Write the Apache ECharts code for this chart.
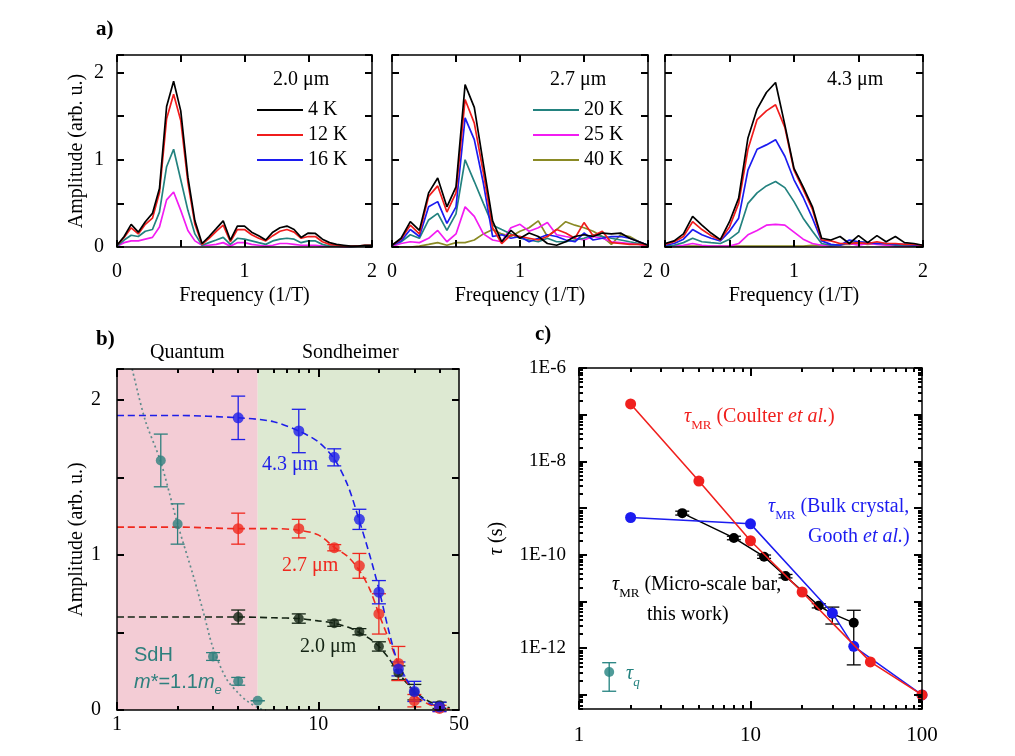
<!DOCTYPE html>
<html><head><meta charset="utf-8">
<script src="https://cdn.jsdelivr.net/npm/echarts@6/dist/echarts.min.js"></script>
<style>html,body{margin:0;padding:0;background:#fff;}#c{width:1015px;height:756px;}</style>
</head><body><div id="c"></div><script>
// ---------------- DATA ----------------
// Panel a) FFT amplitude spectra
const freqA1 = [0,0.056,0.111,0.167,0.222,0.278,0.333,0.389,0.444,0.5,0.556,0.611,0.667,0.722,0.778,0.833,0.889,0.944,1.0,1.056,1.111,1.167,1.222,1.278,1.333,1.389,1.444,1.5,1.556,1.611,1.667,1.722,1.778,1.833,1.889,1.944,2.0];
const a1_4K  = [0.02,0.12,0.26,0.17,0.29,0.385,0.67,1.61,1.90,1.56,0.80,0.30,0.04,0.12,0.21,0.30,0.08,0.24,0.24,0.17,0.13,0.08,0.17,0.22,0.24,0.20,0.11,0.16,0.155,0.09,0.05,0.03,0.02,0.01,0.01,0.02,0.02];
const a1_12K = [0.02,0.11,0.22,0.15,0.26,0.33,0.62,1.47,1.75,1.45,0.74,0.26,0.03,0.10,0.18,0.25,0.06,0.20,0.20,0.14,0.10,0.07,0.13,0.18,0.20,0.17,0.10,0.12,0.12,0.06,0.03,0.02,0.01,0.01,0.01,0.02,0.02];
const a1_20K = [0.01,0.08,0.135,0.12,0.18,0.20,0.40,0.92,1.12,0.77,0.42,0.15,0.02,0.05,0.08,0.11,0.03,0.10,0.09,0.07,0.05,0.03,0.07,0.09,0.10,0.09,0.05,0.07,0.07,0.03,0.01,0.01,0.01,0.0,0.01,0.01,0.01];
const a1_25K = [0.01,0.05,0.07,0.07,0.09,0.11,0.23,0.54,0.63,0.42,0.19,0.07,0.02,0.02,0.03,0.05,0.01,0.05,0.05,0.03,0.02,0.01,0.02,0.04,0.04,0.03,0.02,0.02,0.02,0.01,0.01,0.01,0.0,0.0,0.01,0.01,0.01];

const freqA23 = [0,0.071,0.143,0.214,0.286,0.357,0.429,0.5,0.571,0.643,0.714,0.786,0.857,0.929,1.0,1.071,1.143,1.214,1.286,1.357,1.429,1.5,1.571,1.643,1.714,1.786,1.857,1.929,2.0];
const a2_4K  = [0.02,0.10,0.29,0.19,0.62,0.79,0.46,0.69,1.86,1.60,0.95,0.30,0.06,0.19,0.10,0.16,0.12,0.04,0.02,0.06,0.12,0.14,0.12,0.16,0.15,0.16,0.10,0.06,0.02];
const a2_12K = [0.02,0.09,0.25,0.15,0.58,0.70,0.40,0.62,1.69,1.42,0.85,0.22,0.04,0.14,0.12,0.10,0.08,0.12,0.20,0.16,0.10,0.28,0.13,0.18,0.05,0.04,0.03,0.03,0.02];
const a2_16K = [0.02,0.07,0.20,0.12,0.46,0.52,0.27,0.46,1.48,1.23,0.73,0.12,0.14,0.10,0.12,0.06,0.10,0.14,0.12,0.08,0.06,0.16,0.08,0.10,0.12,0.12,0.10,0.06,0.02];
const a2_20K = [0.02,0.06,0.14,0.10,0.31,0.385,0.19,0.38,1.00,0.75,0.50,0.25,0.20,0.15,0.10,0.08,0.06,0.10,0.06,0.06,0.08,0.10,0.14,0.12,0.10,0.08,0.06,0.04,0.02];
const a2_25K = [0.01,0.04,0.06,0.05,0.10,0.19,0.06,0.15,0.46,0.35,0.15,0.08,0.06,0.22,0.26,0.18,0.22,0.28,0.14,0.12,0.10,0.08,0.12,0.10,0.06,0.05,0.04,0.03,0.01];
const a2_40K = [0.01,0.0,0.0,0.01,0.03,0.05,0.02,0.05,0.05,0.08,0.15,0.20,0.15,0.12,0.18,0.22,0.30,0.12,0.20,0.29,0.25,0.22,0.18,0.12,0.03,0.14,0.12,0.06,0.02];

const a3_4K  = [0.04,0.07,0.15,0.35,0.25,0.16,0.085,0.29,0.56,1.25,1.58,1.77,1.885,1.40,0.90,0.69,0.46,0.10,0.08,0.12,0.04,0.13,0.05,0.13,0.06,0.12,0.05,0.04,0.02];
const a3_12K = [0.03,0.06,0.12,0.29,0.20,0.13,0.08,0.23,0.50,1.12,1.46,1.56,1.63,1.37,0.88,0.66,0.43,0.08,0.07,0.04,0.04,0.05,0.04,0.06,0.04,0.04,0.03,0.03,0.02];
const a3_16K = [0.02,0.04,0.09,0.20,0.14,0.10,0.07,0.18,0.33,0.88,1.12,1.17,1.23,1.04,0.77,0.57,0.33,0.07,0.03,0.02,0.08,0.06,0.05,0.04,0.04,0.03,0.03,0.02,0.02];
const a3_20K = [0.01,0.02,0.05,0.10,0.06,0.05,0.04,0.09,0.17,0.50,0.62,0.70,0.75,0.68,0.52,0.33,0.18,0.04,0.02,0.02,0.05,0.06,0.05,0.04,0.04,0.02,0.02,0.01,0.01];
const a3_25K = [0.01,0.01,0.02,0.04,0.02,0.01,0.01,0.01,0.04,0.14,0.19,0.25,0.26,0.25,0.17,0.09,0.04,0.02,0.01,0.02,0.04,0.02,0.04,0.03,0.02,0.01,0.01,0.01,0.01];
const a3_40K = [0.01,0.01,0.01,0.01,0.01,0.01,0.01,0.01,0.01,0.01,0.01,0.01,0.01,0.01,0.01,0.01,0.02,0.02,0.02,0.03,0.03,0.04,0.03,0.04,0.03,0.03,0.02,0.02,0.01];

const tempNames = ['4 K','12 K','16 K','20 K','25 K','40 K'];
const thicknessA = ['2.0 \u03bcm','2.7 \u03bcm','4.3 \u03bcm'];

// Panel b) amplitude vs temperature
const tempsB = [4, 8, 12, 16, 20, 25, 30, 40];
const amp43 = [1.885, 1.80, 1.63, 1.23, 0.76, 0.265, 0.12, 0.02];
const err43 = [0.14, 0.14, 0.055, 0.065, 0.075, 0.045, 0.065, 0.03];
const amp27 = [1.17, 1.17, 1.047, 0.93, 0.62, 0.30, 0.06, 0.01];
const err27 = [0.10, 0.06, 0.02, 0.08, 0.13, 0.11, 0.04, 0.02];
const amp20 = [0.60, 0.59, 0.56, 0.505, 0.41, 0.24, 0.115, 0.03];
const err20 = [0.045, 0.03, 0.02, 0.02, 0.03, 0.045, 0.05, 0.02];
const tempsSdH = [1.65, 2, 3, 4, 5];
const ampSdH = [1.61, 1.20, 0.345, 0.185, 0.06];
const errSdH = [0.17, 0.13, 0.025, 0.025, 0.0];
const fitT = [1, 2, 4, 6, 8, 10, 12, 14, 16, 18, 20, 22.5, 25, 30, 35, 40, 45];
const fit43 = [1.90, 1.90, 1.885, 1.86, 1.80, 1.73, 1.62, 1.45, 1.22, 1.00, 0.78, 0.50, 0.30, 0.12, 0.05, 0.02, 0.01];
const fit27 = [1.18, 1.18, 1.17, 1.17, 1.16, 1.13, 1.05, 0.99, 0.90, 0.78, 0.62, 0.45, 0.30, 0.10, 0.04, 0.015, 0.005];
const fit20 = [0.60, 0.60, 0.60, 0.595, 0.59, 0.575, 0.56, 0.535, 0.50, 0.46, 0.41, 0.33, 0.24, 0.12, 0.06, 0.03, 0.015];
const sdhFitT = [1.19, 1.38, 1.65, 2, 2.4, 2.7, 3, 3.5, 4, 4.4, 5.1, 5.5];
const sdhFit = [2.2, 1.87, 1.60, 1.20, 0.86, 0.62, 0.40, 0.20, 0.11, 0.06, 0.01, 0.0];
const regimeBounds = [1, 5, 50];
const regimeNames = ['Quantum', 'Sondheimer'];

// Panel c) scattering times
const tempRed = [2, 5, 10, 20, 50, 100];
const tauRed = [1.7e-7, 3.8e-9, 2.0e-10, 1.6e-11, 5.1e-13, 1.0e-13];
const tempBlue = [2, 10, 30, 40, 100];
const tauBlue = [6.3e-10, 4.6e-10, 5.7e-12, 1.1e-12, 1.0e-13];
const tempBlack = [4, 8, 12, 16, 25, 30, 40];
const tauBlack = [7.8e-10, 2.3e-10, 9.1e-11, 3.5e-11, 8.1e-12, 5.5e-12, 3.5e-12];
const tauBlackLo = [7.1e-10, 2.1e-10, 8.4e-11, 3.2e-11, 7.3e-12, 3.3e-12, 4.4e-13];
const tauBlackHi = [8.6e-10, 2.5e-10, 9.9e-11, 3.8e-11, 9.0e-12, 7.6e-12, 6.5e-12];
const tempTauQ = [1.5];
const tauQ = [3.1e-13];
const tauQLo = [1.2e-13];
const tauQHi = [4.9e-13];

// ---------------- STYLE ----------------
const SERIF = "'Liberation Serif', 'Times New Roman', serif";
const SANS = "'Liberation Sans', Arial, sans-serif";
const COL = {k:'#000000', r:'#f01c1c', b:'#1c1cf0', t:'#23827f', m:'#f21cf2', o:'#8a8a24'};
const tempColors = [COL.k, COL.r, COL.b, COL.t, COL.m, COL.o];
const FS = 20;
const lab = {fontFamily: SERIF, fontSize: FS, color: '#000'};
const AXL = {color: '#000', width: 1.5};

const xAxes = [], yAxes = [];
const addX = o => (xAxes.push(o), xAxes.length - 1);
const addY = o => (yAxes.push(o), yAxes.length - 1);
const intFmt = v => (Math.abs(v - Math.round(v)) < 1e-9 ? String(Math.round(v)) : '');

function linAxis(grid, pos, min, max, interval, showLab, margin, extra) {
  return Object.assign({
    gridIndex: grid, type: 'value', position: pos, min, max, interval,
    axisLine: {show: true, onZero: false, lineStyle: AXL},
    axisTick: {show: true, inside: true, length: 7, lineStyle: {color: '#000', width: 2}},
    axisLabel: showLab ? Object.assign({show: true, margin, formatter: intFmt}, lab) : {show: false},
    splitLine: {show: false}, z: 10
  }, extra || {});
}
function logAxis(grid, pos, min, max, ticks, len, showLine, labels, fmt, margin, labStyle, extra) {
  return Object.assign({
    gridIndex: grid, type: 'log', logBase: 10, position: pos, min, max,
    axisLine: {show: showLine, onZero: false, lineStyle: AXL},
    axisTick: {show: true, inside: true, length: len, customValues: ticks, lineStyle: {color: '#000', width: 2}},
    axisLabel: labels ? Object.assign({show: true, customValues: labels, formatter: fmt, margin}, lab, labStyle || {}) : {show: false},
    splitLine: {show: false}, minorTick: {show: false}, z: 10
  }, extra || {});
}

const grids = [
  {left: 117, top: 55, width: 255, height: 192},
  {left: 392, top: 55, width: 256, height: 192},
  {left: 665, top: 55, width: 258, height: 192},
  {left: 117, top: 369, width: 342, height: 341},
  {left: 579, top: 368, width: 343, height: 341}
].map(g => Object.assign({show: false, containLabel: false, outerBoundsMode: 'none'}, g));

const series = [];

// ---------- Panel a ----------
const panelA = [
  {freq: freqA1, curves: [a1_4K, a1_12K, null, a1_20K, a1_25K, null]},
  {freq: freqA23, curves: [a2_4K, a2_12K, a2_16K, a2_20K, a2_25K, a2_40K]},
  {freq: freqA23, curves: [a3_4K, a3_12K, a3_16K, a3_20K, a3_25K, a3_40K]}
];
panelA.forEach((p, gi) => {
  const xi = addX(linAxis(gi, 'bottom', 0, 2, 0.5, true, 15, {
    name: 'Frequency (1/T)', nameLocation: 'middle', nameGap: 39,
    nameTextStyle: {fontFamily: SERIF, fontSize: FS, color: '#000'}
  }));
  addX(linAxis(gi, 'top', 0, 2, 0.5, false));
  const yi = addY(linAxis(gi, 'left', 0, 2.2, 0.5, gi === 0, 13, gi === 0 ? {
    name: 'Amplitude (arb. u.)', nameLocation: 'middle', nameGap: 30,
    nameTextStyle: {fontFamily: SERIF, fontSize: FS, color: '#000'}
  } : {}));
  addY(linAxis(gi, 'right', 0, 2.2, 0.5, false));
  for (let k = tempNames.length - 1; k >= 0; k--) {
    const vals = p.curves[k];
    if (!vals) continue;
    series.push({
      name: tempNames[k], type: 'line', xAxisIndex: xi, yAxisIndex: yi,
      data: p.freq.map((f, i) => [f, vals[i]]), symbol: 'none',
      lineStyle: {color: tempColors[k], width: 1.7}, itemStyle: {color: tempColors[k]}, z: 3
    });
  }
});

// ---------- Panel b ----------
const bMinorX = [2,3,4,5,6,7,8,9,20,30,40];
const bxi = addX(logAxis(3, 'bottom', 1, 50, [1, 10], 8, true, [1, 10, 50], v => String(Math.round(v)), 5));
addX(logAxis(3, 'bottom', 1, 50, bMinorX, 4, false));
addX(logAxis(3, 'top', 1, 50, [1, 10], 8, true));
addX(logAxis(3, 'top', 1, 50, bMinorX, 4, false));
const byi = addY(linAxis(3, 'left', 0, 2.2, 0.5, true, 16, {
  name: 'Amplitude (arb. u.)', nameLocation: 'middle', nameGap: 30,
  nameTextStyle: {fontFamily: SERIF, fontSize: FS, color: '#000'}
}));
addY(linAxis(3, 'right', 0, 2.2, 0.5, false));

function errSeries(xi, yi, xs, lo, hi, color, capW, z) {
  return {
    type: 'custom', xAxisIndex: xi, yAxisIndex: yi, z, silent: true,
    data: xs.map((x, i) => [x, lo[i], hi[i]]),
    encode: {x: 0, y: [1, 2]},
    renderItem(params, api) {
      const x = api.value(0);
      const p0 = api.coord([x, api.value(1)]), p1 = api.coord([x, api.value(2)]);
      const st = {stroke: color, lineWidth: 1.3};
      return {type: 'group', children: [
        {type: 'line', shape: {x1: p0[0], y1: p0[1], x2: p1[0], y2: p1[1]}, style: st},
        {type: 'line', shape: {x1: p0[0] - capW, y1: p0[1], x2: p0[0] + capW, y2: p0[1]}, style: st},
        {type: 'line', shape: {x1: p1[0] - capW, y1: p1[1], x2: p1[0] + capW, y2: p1[1]}, style: st}
      ]};
    }
  };
}
const bColors = {b: '#1e1ee8', r: '#f0281e', k: '#142414', t: '#2e7f7d'};
// regime backgrounds
series.push({
  type: 'line', xAxisIndex: bxi, yAxisIndex: byi, data: [], z: 1, silent: true,
  markArea: {silent: true, z: 1, data: [
    [{xAxis: regimeBounds[0], itemStyle: {color: '#f3ccd5'}}, {xAxis: regimeBounds[1]}],
    [{xAxis: regimeBounds[1], itemStyle: {color: '#dde9d2'}}, {xAxis: regimeBounds[2]}]
  ]}
});
series.push({type: 'line', xAxisIndex: bxi, yAxisIndex: byi, data: sdhFitT.map((t, i) => [t, sdhFit[i]]),
  symbol: 'none', smooth: 0.3, lineStyle: {color: '#5f8c8c', width: 1.7, type: [2, 3]}, z: 3});
[[fit20, bColors.k], [fit27, bColors.r], [fit43, bColors.b]].forEach(([f, c]) => {
  series.push({type: 'line', xAxisIndex: bxi, yAxisIndex: byi, data: fitT.map((t, i) => [t, f[i]]),
    symbol: 'none', smooth: 0.3, lineStyle: {color: c, width: 1.6, type: [7, 4]}, z: 3});
});
[[amp20, err20, bColors.k, 10], [amp27, err27, bColors.r, 11], [amp43, err43, bColors.b, 11]].forEach(([a, e, c, s]) => {
  series.push(errSeries(bxi, byi, tempsB, a.map((v, i) => v - e[i]), a.map((v, i) => v + e[i]), c, 7, 4));
  series.push({type: 'scatter', xAxisIndex: bxi, yAxisIndex: byi, data: tempsB.map((t, i) => [t, a[i]]),
    symbol: 'circle', symbolSize: s, itemStyle: {color: c}, z: 5});
});
series.push(errSeries(bxi, byi, tempsSdH, ampSdH.map((v, i) => v - errSdH[i]), ampSdH.map((v, i) => v + errSdH[i]), bColors.t, 7, 4));
series.push({type: 'scatter', xAxisIndex: bxi, yAxisIndex: byi, data: tempsSdH.map((t, i) => [t, ampSdH[i]]),
  symbol: 'circle', symbolSize: 10, itemStyle: {color: bColors.t}, z: 5});

// ---------- Panel c ----------
const cMinorX = [2,3,4,5,6,7,8,9,20,30,40,50,60,70,80,90];
const cMajorY = [1e-13,1e-12,1e-11,1e-10,1e-9,1e-8,1e-7,1e-6];
const cMinorY = [];
[1e-14,1e-13,1e-12,1e-11,1e-10,1e-9,1e-8,1e-7].forEach(d => [2,3,4,5,6,7,8,9].forEach(m => cMinorY.push(+(m * d).toPrecision(3))));
const cLabY = [1e-12, 1e-10, 1e-8, 1e-6];
const expFmt = v => '1E' + Math.round(Math.log10(v));
const cxi = addX(logAxis(4, 'bottom', 1, 100, [1, 10, 100], 8, true, [1, 10, 100], v => String(Math.round(v)), 16, {fontSize: 21}));
addX(logAxis(4, 'bottom', 1, 100, cMinorX, 4, false));
addX(logAxis(4, 'top', 1, 100, [1, 10, 100], 8, true));
addX(logAxis(4, 'top', 1, 100, cMinorX, 4, false));
const cyi = addY(logAxis(4, 'left', 5e-14, 1e-6, cMajorY, 8, true, cLabY, expFmt, 13, {fontSize: 19}, {
  name: '{i|\u03c4} (s)', nameLocation: 'middle', nameGap: 72,
  nameTextStyle: {fontFamily: SERIF, fontSize: FS, color: '#000',
    rich: {i: {fontFamily: SERIF, fontSize: FS, fontStyle: 'italic', color: '#000'}}}
}));
addY(logAxis(4, 'left', 5e-14, 1e-6, cMinorY, 4, false));
addY(logAxis(4, 'right', 5e-14, 1e-6, cMajorY, 8, true));
addY(logAxis(4, 'right', 5e-14, 1e-6, cMinorY, 4, false));

const cColors = {r: '#f0201e', b: '#1c1cf0', k: '#000000', t: '#23827f'};
series.push(errSeries(cxi, cyi, tempBlack, tauBlackLo, tauBlackHi, cColors.k, 7, 3));
series.push({type: 'line', xAxisIndex: cxi, yAxisIndex: cyi, data: tempBlack.map((t, i) => [t, tauBlack[i]]),
  symbol: 'circle', symbolSize: 10, showSymbol: true, lineStyle: {color: cColors.k, width: 1.5}, itemStyle: {color: cColors.k}, z: 3});
series.push({type: 'line', xAxisIndex: cxi, yAxisIndex: cyi, data: tempBlue.map((t, i) => [t, tauBlue[i]]),
  symbol: 'circle', symbolSize: 11, showSymbol: true, lineStyle: {color: cColors.b, width: 1.5}, itemStyle: {color: cColors.b}, z: 4});
series.push({type: 'line', xAxisIndex: cxi, yAxisIndex: cyi, data: tempRed.map((t, i) => [t, tauRed[i]]),
  symbol: 'circle', symbolSize: 11, showSymbol: true, lineStyle: {color: cColors.r, width: 1.6}, itemStyle: {color: cColors.r}, z: 5});
series.push(errSeries(cxi, cyi, tempTauQ, tauQLo, tauQHi, cColors.t, 7, 5));
series.push({type: 'scatter', xAxisIndex: cxi, yAxisIndex: cyi, data: tempTauQ.map((t, i) => [t, tauQ[i]]),
  symbol: 'circle', symbolSize: 10, itemStyle: {color: cColors.t}, z: 6});

// ---------- Texts ----------
function txt(x, y, text, color, size, fam, weight) {
  return {type: 'text', x, y, z: 20, style: {text, fill: color, fontFamily: fam || SERIF, fontSize: size,
    fontWeight: weight || 'normal', align: 'left', verticalAlign: 'middle'}};
}
function rtxt(x, y, text, color, size, fam) {
  const f = fam || SERIF;
  const lh = size + 10;
  return {type: 'text', x, y, z: 20, style: {text, fill: color, fontFamily: f, fontSize: size, align: 'left', verticalAlign: 'middle',
    rich: {
      n: {fontFamily: f, fontSize: size, fill: color, verticalAlign: 'middle', lineHeight: lh},
      i: {fontFamily: f, fontSize: size, fontStyle: 'italic', fill: color, verticalAlign: 'middle', lineHeight: lh},
      s: {fontFamily: SERIF, fontSize: Math.round(size * 0.66), fill: color, verticalAlign: 'bottom'},
      si: {fontFamily: f, fontSize: Math.round(size * 0.66), fontStyle: 'italic', fill: color, verticalAlign: 'bottom'}
    }}};
}
const graphics = [
  txt(96, 30, 'a)', '#000', 21, SERIF, 'bold'),
  txt(96, 340, 'b)', '#000', 21, SERIF, 'bold'),
  txt(535, 335, 'c)', '#000', 21, SERIF, 'bold'),
  txt(273, 80, thicknessA[0], '#000', FS),
  txt(550, 80, thicknessA[1], '#000', FS),
  txt(827, 80, thicknessA[2], '#000', FS),
  txt(150, 353, regimeNames[0], '#000', FS),
  txt(302, 353, regimeNames[1], '#000', FS),
  txt(262, 465, thicknessA[2], bColors.b, FS),
  txt(282, 566, thicknessA[1], bColors.r, FS),
  txt(300, 647, thicknessA[0], bColors.k, FS),
  txt(134, 655, 'SdH', bColors.t, 20, SANS),
  rtxt(134, 682, '{i|m}{n|*=1.1}{i|m}{si|e}', bColors.t, 20, SANS),
  rtxt(684, 417, '{i|\u03c4}{s|MR}{n| (Coulter }{i|et al.}{n|)}', cColors.r, FS),
  rtxt(768, 507, '{i|\u03c4}{s|MR}{n| (Bulk crystal,}', cColors.b, FS),
  rtxt(808, 537, '{n|Gooth }{i|et al.}{n|)}', cColors.b, FS),
  rtxt(612, 585, '{i|\u03c4}{s|MR}{n| (Micro-scale bar,}', cColors.k, FS),
  txt(647, 615, 'this work)', cColors.k, FS),
  rtxt(626, 674, '{i|\u03c4}{si|q}', cColors.t, FS)
];

const legendBase = {orient: 'vertical', icon: 'rect', itemWidth: 46, itemHeight: 2, itemGap: 5, padding: 0,
  textStyle: {fontFamily: SERIF, fontSize: FS, color: '#000'}, itemStyle: {borderWidth: 0}, selectedMode: false};
const option = {
  animation: false,
  backgroundColor: '#ffffff',
  grid: grids,
  xAxis: xAxes,
  yAxis: yAxes,
  legend: [
    Object.assign({left: 257, top: 100, data: tempNames.slice(0, 3)}, legendBase),
    Object.assign({left: 533, top: 100, data: tempNames.slice(3, 6)}, legendBase)
  ],
  graphic: graphics,
  series
};
const chart = echarts.init(document.getElementById('c'), null, {renderer: 'canvas'});
chart.setOption(option);
</script></body></html>
